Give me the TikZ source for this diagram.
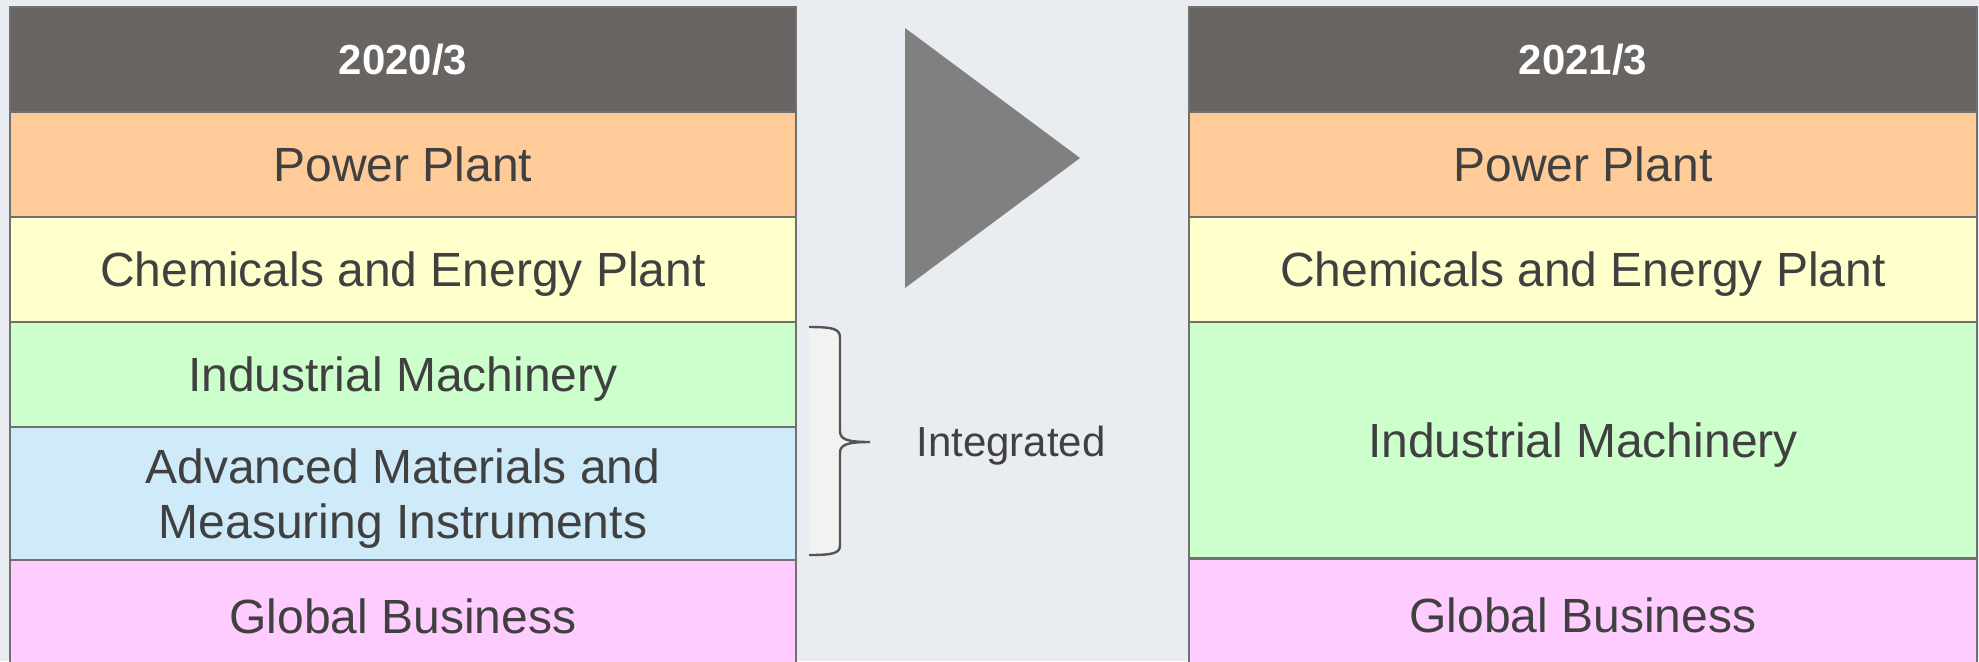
\documentclass[tikz,border=0pt]{standalone}
\usepackage{fontspec}
\setmainfont{Liberation Sans}
\definecolor{bg}{HTML}{E9EDF1}
\definecolor{hdr}{HTML}{686462}
\definecolor{cPP}{HTML}{FFCC99}
\definecolor{cCE}{HTML}{FFFFCC}
\definecolor{cIM}{HTML}{CCFFCC}
\definecolor{cAM}{HTML}{CFEAF8}
\definecolor{cGB}{HTML}{FFCCFF}
\definecolor{bord}{HTML}{707070}
\definecolor{txt}{HTML}{404040}
\definecolor{tri}{HTML}{808080}
\definecolor{brfill}{HTML}{F2F2F2}
\definecolor{brline}{HTML}{555555}
\tikzset{
  cell/.style={draw=bord, line width=1pt, inner sep=0pt, align=center,
    text=txt, text depth=0pt, font=\fontsize{24}{27.5}\selectfont},
  lcol/.style={cell, minimum width=393pt},
  rcol/.style={cell, minimum width=394pt},
  hdrcell/.style={fill=hdr, text=white, font=\bfseries\fontsize{21}{24}\selectfont},
}
\begin{document}
\begin{tikzpicture}[x=0.5pt,y=-0.5pt]
\useasboundingbox (0,0) rectangle (1979,661);
\clip (0,0) rectangle (1979,661);
\fill[bg] (0,0) rectangle (1979,661);
% left column
\node[lcol, hdrcell, minimum height=52.5pt] (lh) at (403,59.5) {2020/3};
\node[lcol, fill=cPP, minimum height=52.5pt] (lpp) at (403,164.5) {Power Plant};
\node[lcol, fill=cCE, minimum height=52.5pt] (lce) at (403,269.5) {Chemicals and Energy Plant};
\node[lcol, fill=cIM, minimum height=52.5pt] (lim) at (403,374.5) {Industrial Machinery};
\node[lcol, fill=cAM, minimum height=66.5pt] (lam) at (403,493.5) {Advanced Materials and\\Measuring Instruments};
\node[lcol, fill=cGB, minimum height=56pt] (lgb) at (403,616) {Global Business};
% right column
\node[rcol, hdrcell, minimum height=52.5pt] (rh) at (1583,59.5) {2021/3};
\node[rcol, fill=cPP, minimum height=52.5pt] (rpp) at (1583,164.5) {Power Plant};
\node[rcol, fill=cCE, minimum height=52.5pt] (rce) at (1583,269.5) {Chemicals and Energy Plant};
\node[rcol, fill=cIM, minimum height=118pt] (rim) at (1583,440) {Industrial Machinery};
\node[rcol, fill=cGB, minimum height=57pt] (rgb) at (1583,615.5) {Global Business};
% arrow triangle
\fill[tri] (905,28) -- (905,288) -- (1080,158) -- cycle;
% brace
\path[fill=brfill, draw=brline, line width=1.2pt]
  (809,327) .. controls (834,327) and (840,329) .. (840,338)
  -- (840,431) .. controls (840,439) and (846,442) .. (870,442)
  .. controls (846,442) and (840,445) .. (840,453)
  -- (840,545) .. controls (840,553) and (834,555) .. (809,555);
\node[text=txt, font=\fontsize{21}{24}\selectfont, inner sep=0pt, text depth=0pt] (integ) at (1011,441) {Integrated};
\end{tikzpicture}
\end{document}
